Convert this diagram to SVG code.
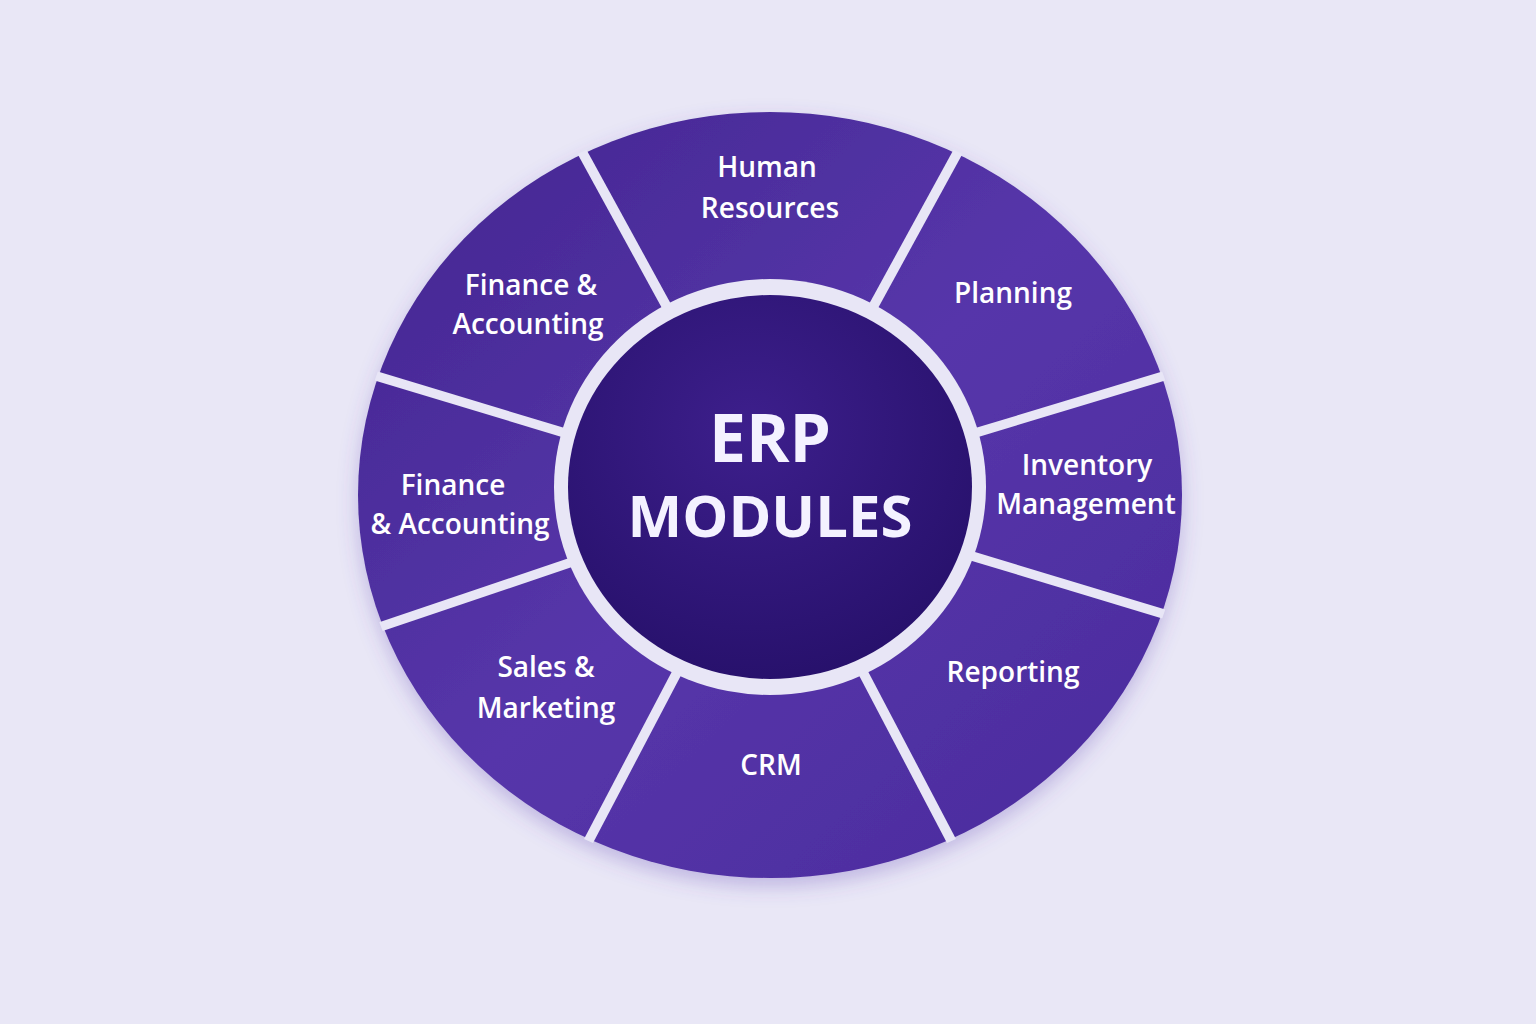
<svg xmlns="http://www.w3.org/2000/svg" width="1536" height="1024" viewBox="0 0 1536 1024">
<defs>
<linearGradient id="ring" x1="0" y1="0" x2="1" y2="1"><stop offset="0" stop-color="#43258f"/><stop offset="0.5" stop-color="#5636aa"/><stop offset="1" stop-color="#4a2a9c"/></linearGradient>
<radialGradient id="core" cx="0.45" cy="0.35" r="0.7"><stop offset="0" stop-color="#3d1f8c"/><stop offset="1" stop-color="#26106a"/></radialGradient>
<filter id="sh" x="-20%" y="-20%" width="140%" height="140%"><feDropShadow dx="0" dy="8" stdDeviation="10" flood-color="#5b3db0" flood-opacity="0.3"/></filter>
<style>
.lbl{font-family:"Open Sans","Noto Sans",sans-serif;font-weight:600;font-size:28px;fill:#ffffff;text-anchor:middle}
.gap{stroke:#e8e6f6;stroke-width:10}
.ctr{font-family:"Open Sans","Noto Sans",sans-serif;font-weight:700;fill:#f4f2ff;text-anchor:middle}
</style>
</defs>
<rect width="1536" height="1024" fill="#e9e7f6"/>
<g id="ring-segments" filter="url(#sh)">
<ellipse cx="770" cy="495" rx="412" ry="383" fill="url(#ring)"/>
</g>
<g id="connectors" transform="translate(770,495) scale(1,0.93)">
<g class="gap">
<line x1="0" y1="-200" x2="0" y2="-414" transform="rotate(-27)"/>
<line x1="0" y1="-200" x2="0" y2="-414" transform="rotate(27)"/>
<line x1="0" y1="-200" x2="0" y2="-414" transform="rotate(72)"/>
<line x1="0" y1="-200" x2="0" y2="-414" transform="rotate(108)"/>
<line x1="0" y1="-200" x2="0" y2="-414" transform="rotate(154)"/>
<line x1="0" y1="-200" x2="0" y2="-414" transform="rotate(206)"/>
<line x1="0" y1="-200" x2="0" y2="-414" transform="rotate(250)"/>
<line x1="0" y1="-200" x2="0" y2="-414" transform="rotate(288)"/>
</g>
</g>
<g id="center">
<ellipse cx="770" cy="487" rx="216" ry="208" fill="#e8e6f6"/>
<ellipse cx="770" cy="487" rx="202" ry="192" fill="url(#core)"/>
<text class="ctr" x="770" y="462" font-size="66">ERP</text>
<text class="ctr" x="770" y="537" font-size="58">MODULES</text>
</g>
<g id="hr"><text class="lbl" x="767" y="177">Human</text><text class="lbl" x="770" y="218">Resources</text></g>
<g id="planning"><text class="lbl" x="1013" y="303">Planning</text></g>
<g id="inventory"><text class="lbl" x="1087" y="475">Inventory</text><text class="lbl" x="1086" y="514">Management</text></g>
<g id="reporting"><text class="lbl" x="1013" y="682">Reporting</text></g>
<g id="crm"><text class="lbl" x="771" y="775">CRM</text></g>
<g id="sales"><text class="lbl" x="546" y="677">Sales &amp;</text><text class="lbl" x="546" y="718">Marketing</text></g>
<g id="finance-left"><text class="lbl" x="453" y="495">Finance</text><text class="lbl" x="460" y="534">&amp; Accounting</text></g>
<g id="finance-top"><text class="lbl" x="531" y="295">Finance &amp;</text><text class="lbl" x="528" y="334">Accounting</text></g>
</svg>
